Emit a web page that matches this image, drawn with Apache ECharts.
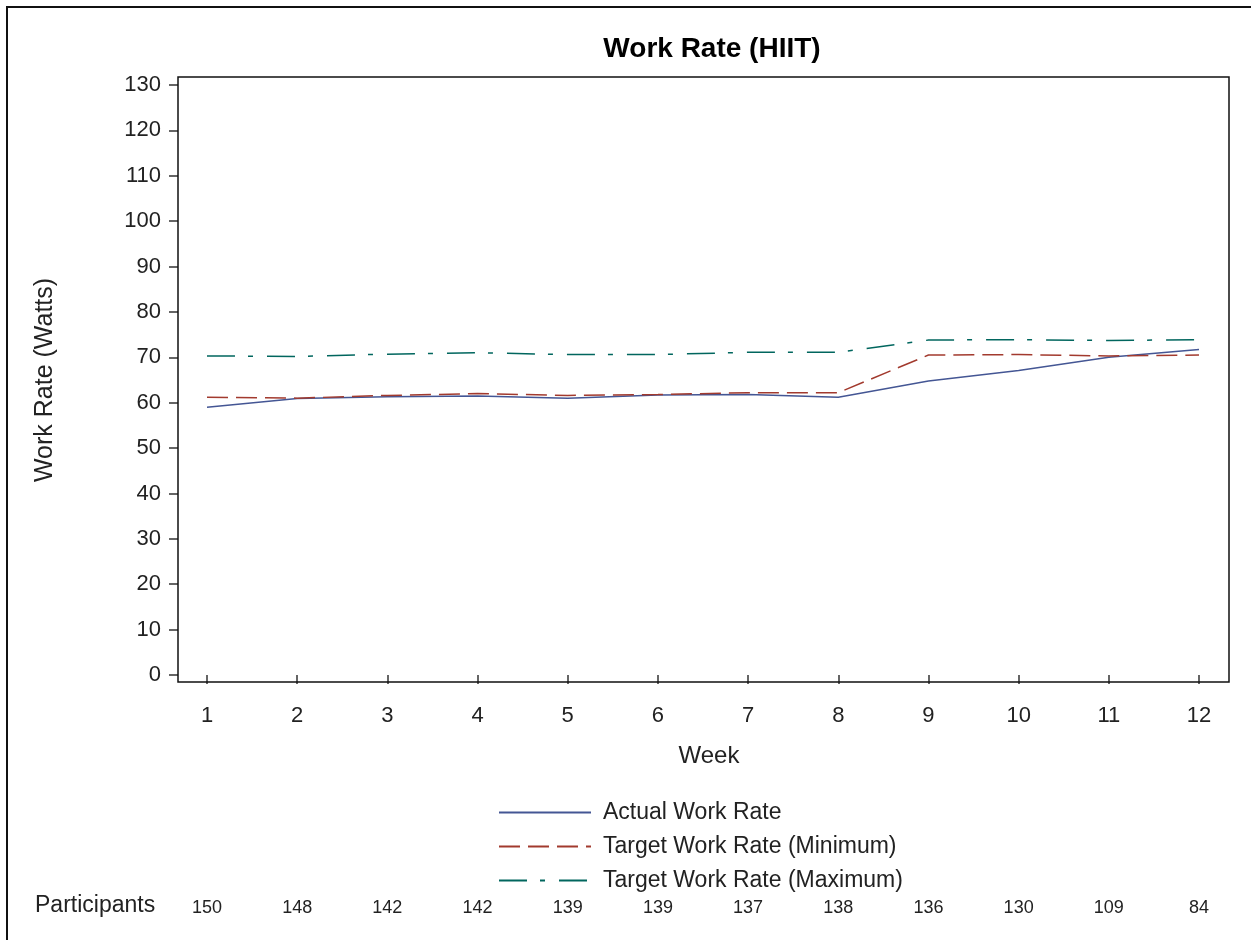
<!DOCTYPE html>
<html>
<head>
<meta charset="utf-8">
<script src="https://cdn.jsdelivr.net/npm/echarts@6/dist/echarts.min.js"></script>
<style>html,body{margin:0;padding:0;background:#fff}#c{width:1251px;height:940px}</style>
</head>
<body>
<div id="c"></div>
<script>
const weeks = [1,2,3,4,5,6,7,8,9,10,11,12];
const actualWorkRate = [59.0, 60.9, 61.3, 61.5, 61.0, 61.7, 61.8, 61.2, 64.8, 67.1, 70.0, 71.7];
const targetMin = [61.2, 61.0, 61.6, 62.0, 61.6, 61.8, 62.2, 62.2, 70.5, 70.6, 70.3, 70.5];
const targetMax = [70.3, 70.2, 70.7, 71.0, 70.6, 70.6, 71.1, 71.1, 73.8, 73.9, 73.7, 73.9];
const participants = [150, 148, 142, 142, 139, 139, 137, 138, 136, 130, 109, 84];
const seriesNames = ['Actual Work Rate', 'Target Work Rate (Minimum)', 'Target Work Rate (Maximum)'];

const font = 'Arial, "Liberation Sans", Helvetica, sans-serif';
const pair = arr => weeks.map((w, i) => [w, arr[i]]);

const chart = echarts.init(document.getElementById('c'));
chart.setOption({
  animation: false,
  backgroundColor: '#fff',
  title: {
    text: 'Work Rate (HIIT)',
    left: 707, top: 30, textAlign: 'center',
    textStyle: { fontFamily: font, fontSize: 28, fontWeight: 'bold', color: '#000' }
  },
  grid: { left: 207, right: 52, top: 85, bottom: 265 },
  xAxis: [{
    type: 'value', min: 1, max: 12, interval: 1,
    offset: 7,
    axisLine: { show: false },
    axisTick: { show: true, length: 9, lineStyle: { color: '#333', width: 1.5 } },
    axisLabel: { margin: 23, fontFamily: font, fontSize: 22, color: '#222' },
    splitLine: { show: false },
    name: 'Week', nameLocation: 'middle', nameGap: 62,
    nameTextStyle: { fontFamily: font, fontSize: 24, color: '#222', padding: [0, 0, 0, 12] }
  }, {
    type: 'value', min: 1, max: 12, interval: 1, position: 'bottom',
    offset: 224,
    axisLine: { show: false }, axisTick: { show: false }, splitLine: { show: false },
    axisLabel: {
      margin: 0, fontFamily: font, fontSize: 18, color: '#222',
      formatter: v => { const i = weeks.indexOf(v); return i >= 0 ? String(participants[i]) : ''; }
    }
  }],
  yAxis: {
    type: 'value', min: 0, max: 130, interval: 10,
    offset: 29,
    axisLine: { show: false },
    axisTick: { show: true, length: 9, lineStyle: { color: '#333', width: 1.5 } },
    axisLabel: { margin: 17, fontFamily: font, fontSize: 22, color: '#222' },
    splitLine: { show: false },
    name: 'Work Rate (Watts)', nameLocation: 'middle', nameGap: 120,
    nameTextStyle: { fontFamily: font, fontSize: 25, color: '#222' }
  },
  legend: {
    orient: 'vertical', left: 493, top: 796,
    itemWidth: 92, itemHeight: 14, itemGap: 11,
    itemStyle: { opacity: 0 },
    textStyle: { fontFamily: font, fontSize: 23, color: '#222', padding: [0, 0, 0, 7] },
    data: seriesNames
  },
  graphic: [
    { type: 'rect', shape: { x: 178, y: 77, width: 1051, height: 605 }, style: { fill: 'none', stroke: '#111', lineWidth: 1.5 }, z: 10 },
    { type: 'rect', shape: { x: 7, y: 7, width: 1300, height: 1000 }, style: { fill: 'none', stroke: '#111', lineWidth: 2 }, z: 10 },
    { type: 'text', left: 35, top: 894, style: { text: 'Participants', fontFamily: font, fontSize: 23, fill: '#222' } }
  ],
  series: [
    { name: seriesNames[0], type: 'line', data: pair(actualWorkRate), symbol: 'none',
      lineStyle: { color: '#445694', width: 1.5, type: 'solid' }, itemStyle: { color: '#445694' } },
    { name: seriesNames[1], type: 'line', data: pair(targetMin), symbol: 'none',
      lineStyle: { color: '#A23A2E', width: 1.5, type: [21, 8] }, itemStyle: { color: '#A23A2E' } },
    { name: seriesNames[2], type: 'line', data: pair(targetMax), symbol: 'none',
      lineStyle: { color: '#01665E', width: 1.5, type: [28, 13, 5, 14] }, itemStyle: { color: '#01665E' } }
  ]
});
</script>
</body>
</html>
